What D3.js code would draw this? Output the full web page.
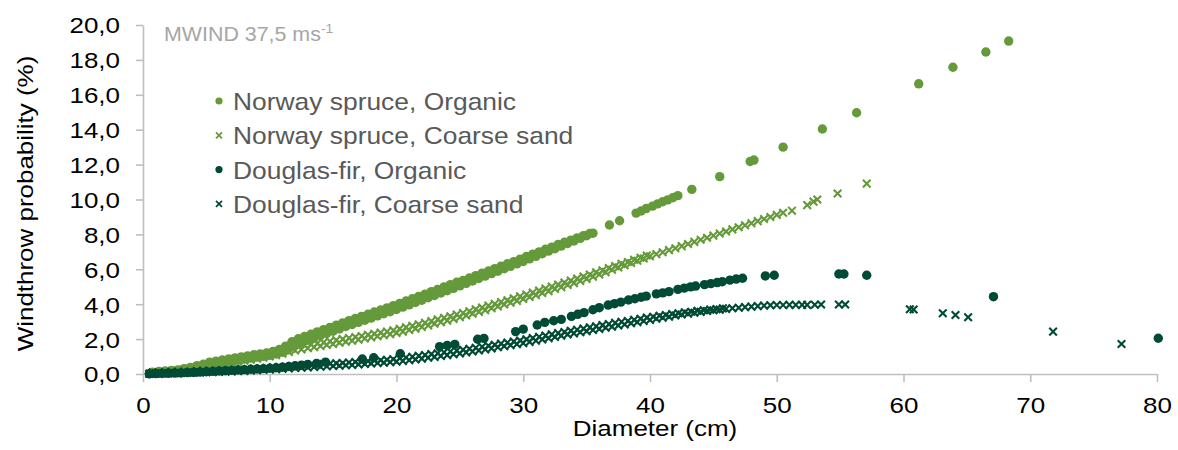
<!DOCTYPE html>
<html>
<head>
<meta charset="utf-8">
<script src="https://cdn.jsdelivr.net/npm/d3@7"></script>
<style>
  html, body { margin: 0; padding: 0; background: #fff; }
  svg { display: block; font-family: "Liberation Sans", Arial, sans-serif; }
</style>
</head>
<body>
<script>
(function(){

// diameters (cm) of the dense part of every series
var diam = [
    0.5,1,1.5,2,2.5,3,3.5,4,4.5,5,
    5.5,6,6.5,7,7.5,8,8.5,9,9.5,10,
    10.5,11,11.5,12,12.5,13,13.5,14,14.5,15,
    15.5,16,16.5,17,17.5,18,18.5,19,19.5,20,
    20.5,21,21.5,22,22.5,23,23.5,24,24.5,25,
    25.5,26,26.5,27,27.5,28,28.5,29,29.5,30,
    30.5,31,31.5,32,32.5,33,33.5,34,34.5,35,
    35.5,36,36.5,37,37.5,38,38.5,39,39.5,40,
    40.5,41,41.5,42,42.5,43,43.5,44,44.5,45,
    45.5,46,46.5,47,47.5,48,48.5,49,49.5,50,
    50.5
];

// second row of trees (upper edge of the bands), between the first
var diamMid = [
    0.75,1.25,1.75,2.25,2.75,3.25,3.75,4.25,4.75,5.25,
    5.75,6.25,6.75,7.25,7.75,8.25,8.75,9.25,9.75,10.25,
    10.75,11.25,11.75,12.25,12.75,13.25,13.75,14.25,14.75,15.25,
    15.75,16.25,16.75,17.25,17.75,18.25,18.75,19.25,19.75,20.25,
    20.75,21.25,21.75,22.25,22.75,23.25,23.75,24.25,24.75,25.25,
    25.75,26.25,26.75,27.25,27.75,28.25,28.75,29.25,29.75,30.25,
    30.75,31.25,31.75,32.25,32.75,33.25,33.75,34.25,34.75,35.25,
    35.75,36.25,36.75,37.25,37.75,38.25,38.75,39.25,39.75,40.25,
    40.75,41.25,41.75,42.25,42.75,43.25,43.75,44.25,44.75,45.25,
    45.75
];

// Norway spruce, Organic
var nsOrganicBand = [
    0.02,0.04,0.07,0.10,0.13,0.17,0.24,0.32,0.41,0.50,
    0.56,0.62,0.68,0.74,0.80,0.86,0.92,0.97,1.02,1.07,
    1.15,1.25,1.45,1.68,1.80,1.93,2.06,2.19,2.32,2.45,
    2.58,2.72,2.84,2.96,3.08,3.20,3.33,3.45,3.57,3.70,
    3.83,3.96,4.10,4.23,4.37,4.50,4.64,4.77,4.91,5.05,
    5.19,5.33,5.47,5.61,5.75,5.89,6.03,6.17,6.31,6.45,
    6.60,6.74,6.89,7.04,7.18,7.33,7.48,7.62,7.77,7.92,
    8.07
];
var nsOrganicHigh = [
    0.11,0.14,0.17,0.20,0.23,0.31,0.38,0.47,0.56,0.68,
    0.74,0.80,0.86,0.92,0.98,1.04,1.10,1.15,1.20,1.29,
    1.40,1.60,1.85,2.02,2.15,2.28,2.41,2.54,2.67,2.80,
    2.93,3.06,3.18,3.30,3.42,3.55,3.67,3.79,3.92,4.05,
    4.18,4.31,4.45,4.58,4.72,4.85,4.99,5.12,5.26,5.36,
    5.50,5.64,5.78,5.90,6.04,6.18,6.32,6.44,6.58,6.73,
    6.87,7.00,7.15,7.27,7.42,7.55,7.67,7.80,7.93,8.05
];
var nsOrganicTailD = [36.8,37.6,38.9,39.3,39.7,40.2,40.6,41.0,41.4,41.8,42.2,43.3,45.5,47.9,48.2,50.5,53.6,56.3,61.2,63.9,66.5,68.3];
var nsOrganicTailV = [8.54,8.78,9.22,9.34,9.48,9.62,9.75,9.87,9.98,10.10,10.22,10.58,11.31,12.18,12.26,13.0,14.04,14.97,16.63,17.58,18.45,19.08];

// Norway spruce, Coarse sand
var nsSandBand = [
    0.02,0.04,0.06,0.09,0.12,0.16,0.21,0.28,0.35,0.42,
    0.48,0.53,0.59,0.64,0.70,0.76,0.82,0.88,0.94,1.00,
    1.08,1.17,1.26,1.35,1.41,1.48,1.54,1.60,1.66,1.72,
    1.79,1.85,1.91,1.97,2.03,2.10,2.16,2.22,2.28,2.35,
    2.43,2.52,2.60,2.69,2.78,2.88,2.97,3.06,3.16,3.25,
    3.35,3.45,3.56,3.66,3.77,3.87,3.98,4.08,4.19,4.30,
    4.41,4.52,4.64,4.75,4.87,4.98,5.10,5.21,5.33,5.45,
    5.58,5.71,5.84,5.97,6.10,6.23,6.36,6.49,6.62,6.75,
    6.87,6.98,7.10,7.21,7.33,7.45,7.57,7.69,7.81,7.93,
    8.05,8.17,8.29,8.41,8.52,8.64,8.76,8.88,9.00,9.12,
    9.24
];
var nsSandHigh = [
    0.09,0.11,0.14,0.17,0.20,0.27,0.33,0.40,0.49,0.55,
    0.61,0.66,0.72,0.79,0.85,0.91,0.97,1.03,1.12,1.19,
    1.28,1.37,1.46,1.56,1.63,1.69,1.75,1.81,1.87,1.94,
    2.00,2.06,2.12,2.18,2.25,2.31,2.37,2.43,2.50,2.59,
    2.68,2.76,2.85,2.94,3.03,3.13,3.22,3.31,3.41,3.50,
    3.60,3.71,3.81,3.92,4.02,4.13,4.23,4.34,4.45,4.56,
    4.67,4.78,4.90,5.01,5.13,5.24,5.36,5.47,5.59,5.70,
    5.83,5.94,6.07,6.18,6.31,6.42,6.55,6.66,6.79
];
var nsSandTailD = [51.2,52.4,52.9,53.2,54.8,57.1];
var nsSandTailV = [9.36,9.68,9.88,10.0,10.34,10.91];

// Douglas-fir, Organic
var dfOrganicBand = [
    0.01,0.02,0.03,0.04,0.05,0.06,0.08,0.09,0.11,0.13,
    0.15,0.17,0.19,0.21,0.23,0.25,0.27,0.29,0.31,0.33,
    0.36,0.39,0.43,0.47,0.51,0.55
];
var dfOrganicTailD = [13.7,14.4,17.3,18.2,20.3,23.4,24.0,24.6,26.4,26.9,29.4,30.0,31.1,31.7,32.4,33.0,
    33.8,34.3,34.8,35.5,36.0,36.7,37.2,37.7,38.3,38.8,39.3,39.7,40.5,41.0,41.5,42.2,42.7,43.2,43.6,
    44.3,44.8,45.3,45.7,46.3,46.8,47.3,49.1,49.8,54.9,55.3,57.1,67.1,80.1];
var dfOrganicTailV = [0.61,0.68,0.86,0.93,1.16,1.57,1.64,1.70,1.99,2.04,2.43,2.57,2.81,2.96,3.05,3.13,
    3.30,3.42,3.52,3.68,3.80,3.95,4.03,4.12,4.24,4.31,4.40,4.46,4.59,4.65,4.72,4.85,4.92,4.99,5.04,
    5.12,5.18,5.24,5.29,5.38,5.44,5.49,5.62,5.66,5.73,5.73,5.66,4.43,2.05];

// Douglas-fir, Coarse sand
var dfSandBand = [
    0.01,0.02,0.03,0.04,0.05,0.06,0.07,0.08,0.09,0.10,
    0.11,0.12,0.14,0.15,0.17,0.18,0.20,0.22,0.24,0.26,
    0.28,0.30,0.32,0.34,0.36,0.38,0.40,0.42,0.44,0.46,
    0.48,0.50,0.52,0.55,0.57,0.60,0.63,0.65,0.68,0.71,
    0.75,0.79,0.83,0.88,0.93,0.98,1.03,1.08,1.13,1.18,
    1.24,1.29,1.35,1.41,1.47,1.53,1.59,1.65,1.71,1.77,
    1.84,1.91,1.98,2.05,2.12,2.19,2.26,2.33,2.39,2.45,
    2.52,2.58,2.65,2.71,2.78,2.84,2.91,2.97,3.04,3.10,
    3.17,3.23,3.29,3.35,3.41,3.46,3.51,3.56,3.61,3.65,
    3.69,3.73,3.77,3.80,3.83,3.86,3.89
];
var dfSandHigh = [
    0.08,0.09,0.10,0.11,0.12,0.13,0.14,0.17,0.18,0.19,
    0.20,0.21,0.23,0.26,0.28,0.29,0.31,0.33,0.35,0.39,
    0.41,0.43,0.45,0.47,0.49,0.53,0.55,0.57,0.59,0.61,
    0.63,0.66,0.69,0.71,0.74,0.77,0.79,0.82,0.85,0.91,
    0.95,0.99,1.04,1.09,1.14,1.19,1.24,1.29,1.34,1.39,
    1.45,1.50,1.56,1.62,1.68,1.74,1.80,1.86,1.92,1.99,
    2.06,2.13,2.20,2.27,2.34,2.41,2.48,2.54,2.60,2.67,
    2.73,2.80,2.86,2.93,2.99,3.04,3.10,3.17,3.23,3.28,
    3.34,3.38,3.44,3.48,3.54,3.57,3.62,3.65,3.69,3.72,
    3.76
];
var dfSandTailD = [49.0,49.5,50.0,50.5,51.0,51.5,52.0,52.4,53.0,53.5,54.9,55.4,60.5,60.8,63.1,64.1,65.1,71.8,77.2];
var dfSandTailV = [3.92,3.94,3.95,3.95,3.96,3.96,3.96,3.96,3.97,3.98,3.98,3.98,3.71,3.70,3.48,3.38,3.25,2.43,1.72];

// axis ticks
var xTicks = [0,10,20,30,40,50,60,70,80];
var yTicks = [0,2,4,6,8,10,12,14,16,18,20];

var seriesNames = ["Norway spruce, Organic", "Norway spruce, Coarse sand", "Douglas-fir, Organic", "Douglas-fir, Coarse sand"];

// colours
var lightGreen = "#659a3b",
    darkGreen = "#004b35";

var width = 1178,
    height = 450,
    left = 143, right = 1157,
    top = 25, bottom = 374,
    textStretch = 1.18; // the original text is stretched horizontally

var svg = d3.select("body")
    .append("svg")
    .attr("width", width)
    .attr("height", height);

var x = d3.scaleLinear().domain([0, 80]).range([left, right]);
var y = d3.scaleLinear().domain([0, 20]).range([bottom, top]);

// zip value arrays onto their diameters
function zip(ds, vs){
    return vs.map(function(v, i){ return [ds[i], v]; });
}

var series = [
    {name: seriesNames[0], color: lightGreen, shape: "dot",
        pts: zip(diam, nsOrganicBand).concat(zip(diamMid, nsOrganicHigh), zip(nsOrganicTailD, nsOrganicTailV))},
    {name: seriesNames[1], color: lightGreen, shape: "cross",
        pts: zip(diam, nsSandBand).concat(zip(diamMid, nsSandHigh), zip(nsSandTailD, nsSandTailV))},
    {name: seriesNames[2], color: darkGreen, shape: "dot",
        pts: zip(diam, dfOrganicBand).concat(zip(dfOrganicTailD, dfOrganicTailV))},
    {name: seriesNames[3], color: darkGreen, shape: "cross",
        pts: zip(diam, dfSandBand).concat(zip(diamMid, dfSandHigh), zip(dfSandTailD, dfSandTailV))}
];

function crossPath(h){
    return "M" + (-h) + "," + (-h) + "L" + h + "," + h + "M" + h + "," + (-h) + "L" + (-h) + "," + h;
}

// axes
var fmt = function(d){ return d.toFixed(1).replace(".", ","); };

var yAxis = svg.append("g")
    .attr("transform", "translate(" + left + ",0)")
    .call(d3.axisLeft(y).tickValues(yTicks).tickFormat(fmt).tickSize(7).tickSizeOuter(0));

var xAxis = svg.append("g")
    .attr("transform", "translate(0," + bottom + ")")
    .call(d3.axisBottom(x).tickValues(xTicks).tickSize(8).tickSizeOuter(0));

[yAxis, xAxis].forEach(function(ax){
    ax.select(".domain").attr("stroke", "#bfbfbf").attr("stroke-width", 1.6);
    ax.selectAll(".tick line").attr("stroke", "#bfbfbf").attr("stroke-width", 1.6);
    ax.selectAll(".tick text")
        .attr("fill", "#000")
        .style("font-size", "22px")
        .style("font-family", "'Liberation Sans', Arial, sans-serif");
});

yAxis.selectAll(".tick text")
    .attr("x", -23 / textStretch)
    .attr("dy", "0.36em")
    .attr("transform", "scale(" + textStretch + ",1)");

xAxis.selectAll(".tick text")
    .attr("y", 39)
    .attr("dy", 0)
    .attr("transform", "scale(" + textStretch + ",1)");

// axis titles
svg.append("text")
    .attr("transform", "translate(" + ((left + right) / 2 + 5) + ",436) scale(" + textStretch + ",1)")
    .attr("text-anchor", "middle")
    .style("font-size", "22px")
    .attr("fill", "#000")
    .text("Diameter (cm)");

svg.append("text")
    .attr("transform", "translate(33," + ((top + bottom) / 2 + 4) + ") rotate(-90) scale(" + textStretch + ",1)")
    .attr("text-anchor", "middle")
    .style("font-size", "22px")
    .attr("fill", "#000")
    .text("Windthrow probability (%)");

// wind speed note
var note = svg.append("text")
    .attr("transform", "translate(164,41) scale(1.07,1)")
    .style("font-size", "20px")
    .attr("fill", "#a6a6a6");
note.append("tspan").text("MWIND 37,5 ms");
note.append("tspan").attr("dy", -8).style("font-size", "13px").text("-1");

// scatter marks, later series drawn on top
var plot = svg.append("g");

series.forEach(function(s){
    var g = plot.append("g").attr("class", "series");
    if (s.shape == "dot"){
        g.selectAll("circle")
            .data(s.pts)
            .enter()
            .append("circle")
            .attr("cx", function(d){ return x(d[0]); })
            .attr("cy", function(d){ return y(d[1]); })
            .attr("r", 4.7)
            .attr("fill", s.color);
    } else {
        g.selectAll("path")
            .data(s.pts)
            .enter()
            .append("path")
            .attr("transform", function(d){ return "translate(" + x(d[0]) + "," + y(d[1]) + ")"; })
            .attr("d", crossPath(3.8))
            .attr("stroke", s.color)
            .attr("stroke-width", 2.1)
            .attr("fill", "none");
    }
});

// legend
var legend = svg.append("g")
    .attr("transform", "translate(219,101)");

var rows = legend.selectAll(".row")
    .data(series)
    .enter()
    .append("g")
    .attr("class", "row")
    .attr("transform", function(d, i){ return "translate(0," + (i * 34.3) + ")"; });

rows.each(function(s){
    var r = d3.select(this);
    if (s.shape == "dot"){
        r.append("circle").attr("r", 3.6).attr("fill", s.color);
    } else {
        r.append("path").attr("d", crossPath(3)).attr("stroke", s.color)
            .attr("stroke-width", 1.7).attr("fill", "none");
    }
    r.append("text")
        .attr("transform", "translate(14,9) scale(1.1,1)")
        .style("font-size", "24px")
        .attr("fill", "#595959")
        .text(s.name);
});

})();
</script>
</body>
</html>
